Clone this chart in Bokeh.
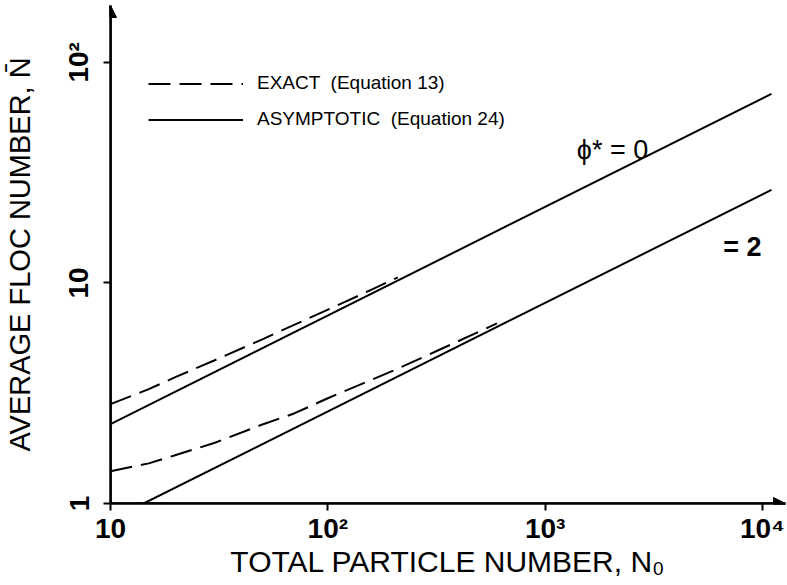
import numpy as np
from bokeh.plotting import figure
from bokeh.models import FixedTicker, Legend, LegendItem, Label, Arrow, NormalHead
from bokeh.embed import file_html
from bokeh.resources import INLINE

# ---- data ----
n0_exact_0 = [10, 15, 20, 30, 50, 80, 120, 160, 210]
nbar_exact_0 = [2.82, 3.30, 3.75, 4.45, 5.55, 6.85, 8.2, 9.35, 10.6]
n0_exact_2 = [10, 15, 20, 30, 50, 70, 100, 200, 315, 450, 600]
nbar_exact_2 = [1.40, 1.52, 1.66, 1.88, 2.28, 2.56, 3.0, 4.0, 4.9, 5.75, 6.55]
n0_asym_0 = [10, 11000]
nbar_asym_0 = [2.29, 72]
n0_asym_2 = [14.2, 11000]
nbar_asym_2 = [1.0, 26.4]

x_ticks = [10, 100, 1000, 10000]
x_tick_labels = ["10", "10\u00b2", "10\u00b3", "10\u2074"]
y_ticks = [1, 10, 100]
y_tick_labels = ["1", "10", "10\u00b2"]

FONT = "Liberation Sans"
X_END = 12770
Y_END = 181

p = figure(width=787, height=585, x_axis_type="log", y_axis_type="log",
           x_range=(10, X_END), y_range=(1, Y_END),
           output_backend="svg", toolbar_location=None,
           min_border_left=110, min_border_bottom=82, min_border_top=5, min_border_right=2)
p.xgrid.visible = False
p.ygrid.visible = False
p.outline_line_color = None
p.background_fill_color = "white"

dash = "22 9"
r_e0 = p.line(n0_exact_0, nbar_exact_0, line_color="black", line_width=2, line_dash=dash)
r_e2 = p.line(n0_exact_2, nbar_exact_2, line_color="black", line_width=2, line_dash=dash)
r_a0 = p.line(n0_asym_0, nbar_asym_0, line_color="black", line_width=2)
r_a2 = p.line(n0_asym_2, nbar_asym_2, line_color="black", line_width=2)

for ax, ticks, labels in ((p.xaxis, x_ticks, x_tick_labels), (p.yaxis, y_ticks, y_tick_labels)):
    ax.ticker = FixedTicker(ticks=ticks)
    ax.major_label_overrides = {t: l for t, l in zip(ticks, labels)}
    ax.axis_line_width = 2.5
    ax.axis_line_color = "black"
    ax.major_tick_line_width = 2
    ax.major_tick_out = 7
    ax.major_tick_in = 0
    ax.minor_tick_line_color = None
    ax.major_label_text_font = FONT
    ax.major_label_text_font_style = "bold"
    ax.major_label_text_font_size = "28px"
    ax.major_label_text_color = "black"
    ax.axis_label_text_font = FONT
    ax.axis_label_text_font_style = "normal"
    ax.axis_label_text_color = "black"

p.xaxis.axis_label = "TOTAL PARTICLE NUMBER, N\u2080"
p.yaxis.axis_label = "AVERAGE FLOC NUMBER, N\u0304"
p.xaxis.axis_label_text_font_size = "30px"
p.yaxis.axis_label_text_font_size = "29px"
p.xaxis.major_label_standoff = 2
p.xaxis.axis_label_standoff = -2
p.yaxis.major_label_orientation = "parallel"
p.yaxis.major_label_standoff = 9
p.yaxis.axis_label_standoff = 25

# axis arrows
p.add_layout(Arrow(end=NormalHead(size=12, fill_color="black", line_color="black"),
                   x_start=10, y_start=1, x_end=X_END, y_end=1, line_width=2.5))
p.add_layout(Arrow(end=NormalHead(size=12, fill_color="black", line_color="black"),
                   x_start=10, y_start=1, x_end=10, y_end=Y_END, line_width=2.5))

legend = Legend(items=[LegendItem(label="EXACT  (Equation 13)", renderers=[r_e0]),
                       LegendItem(label="ASYMPTOTIC  (Equation 24)", renderers=[r_a0])],
                location=(38, 373), border_line_color=None, background_fill_alpha=0,
                glyph_width=95, glyph_height=21, label_height=21, label_standoff=14,
                spacing=14, padding=0, margin=0,
                label_text_font=FONT, label_text_font_size="19px", label_text_color="black")
p.add_layout(legend)

p.add_layout(Label(x=1400, y=40, text="\u03d5* = 0", text_font=FONT, text_font_size="27px",
                   text_color="black", text_baseline="alphabetic"))
p.add_layout(Label(x=6600, y=14.6, text="= 2", text_font=FONT, text_font_size="27px",
                   text_font_style="bold", text_color="black", text_baseline="alphabetic"))

open("out.html", "w").write(file_html(p, INLINE))
